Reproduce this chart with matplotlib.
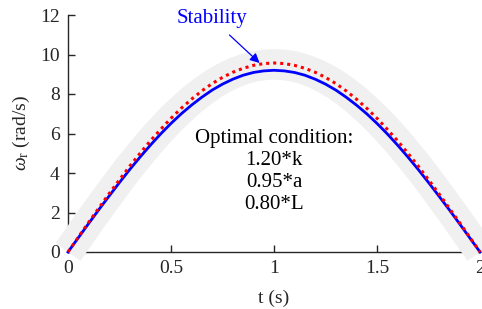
import numpy as np
import matplotlib
matplotlib.use("Agg")
import matplotlib.pyplot as plt

plt.rcParams['font.family'] = ['Liberation Serif', 'DejaVu Serif']
plt.rcParams['mathtext.fontset'] = 'custom'
plt.rcParams['mathtext.rm'] = 'Liberation Serif'
plt.rcParams['mathtext.it'] = 'Liberation Serif:italic'

# time samples (s)
t = [0.00, 0.05, 0.10, 0.15, 0.20, 0.25, 0.30, 0.35, 0.40, 0.45, 0.50,
     0.55, 0.60, 0.65, 0.70, 0.75, 0.80, 0.85, 0.90, 0.95, 1.00,
     1.05, 1.10, 1.15, 1.20, 1.25, 1.30, 1.35, 1.40, 1.45, 1.50,
     1.55, 1.60, 1.65, 1.70, 1.75, 1.80, 1.85, 1.90, 1.95, 2.00]

# speed (rad/s)
w_nominal = [0.00, 0.72, 1.44, 2.15, 2.84, 3.52, 4.18, 4.81, 5.41, 5.98, 6.51,
             7.00, 7.44, 7.84, 8.20, 8.50, 8.75, 8.95, 9.09, 9.17, 9.20,
             9.17, 9.09, 8.95, 8.75, 8.50, 8.20, 7.84, 7.44, 7.00, 6.51,
             5.98, 5.41, 4.81, 4.18, 3.52, 2.84, 2.15, 1.44, 0.72, 0.00]
w_optimal = [0.00, 0.75, 1.50, 2.23, 2.96, 3.66, 4.35, 5.00, 5.63, 6.21, 6.77,
             7.28, 7.74, 8.16, 8.53, 8.84, 9.10, 9.30, 9.45, 9.54, 9.57,
             9.54, 9.45, 9.30, 9.10, 8.84, 8.53, 8.16, 7.74, 7.28, 6.77,
             6.21, 5.63, 5.00, 4.35, 3.66, 2.96, 2.23, 1.50, 0.75, 0.00]
w_band = [0.00, 0.74, 1.49, 2.22, 2.93, 3.64, 4.32, 4.96, 5.59, 6.17, 6.72,
          7.22, 7.69, 8.10, 8.47, 8.78, 9.04, 9.24, 9.39, 9.47, 9.50,
          9.47, 9.39, 9.24, 9.04, 8.78, 8.47, 8.10, 7.69, 7.22, 6.72,
          6.17, 5.59, 4.96, 4.32, 3.64, 2.93, 2.22, 1.49, 0.74, 0.00]

conditions = ["Optimal condition:", "1.20*k", "0.95*a", "0.80*L"]

fig = plt.figure(figsize=(4.82, 3.09), dpi=100)
ax = fig.add_axes([68 / 482, 1 - 252 / 309, 412 / 482, 237 / 309])

# stability band
ax.plot(t, w_band, color='#f0f0f0', linewidth=22, solid_capstyle='butt',
        solid_joinstyle='round', clip_on=False, zorder=3)
ax.plot(t, w_nominal, color='#0000ff', linewidth=2, zorder=4, clip_on=False)
ax.plot(t, w_optimal, color='#ff0000', linewidth=2.2, linestyle=(0, (1.0, 1.3)),
        zorder=5, clip_on=False)

ax.annotate("Stability", xy=(0.93, 9.57), xytext=(0.70, 11.8),
            color='#0000ff', fontsize=15, ha='center', va='center',
            arrowprops=dict(arrowstyle='-|>', color='#0000ff', lw=0.9,
                            mutation_scale=14, shrinkA=4, shrinkB=0))

ax.text(1.0, 4.08, "\n".join(conditions), ha='center', va='center',
        multialignment='center', fontsize=15, color='#000000', linespacing=1.22)

ax.set_xlim(0, 2)
ax.set_ylim(0, 12)
ax.set_xticks([0, 0.5, 1, 1.5, 2])
ax.set_xticklabels(['0', '0.5', '1', '1.5', '2'])
ax.set_yticks([0, 2, 4, 6, 8, 10, 12])

for side in ['top', 'right']:
    ax.spines[side].set_visible(False)
for side in ['left', 'bottom']:
    ax.spines[side].set_color('#262626')
    ax.spines[side].set_linewidth(1.0)

ax.tick_params(direction='in', length=5, width=1.0, colors='#262626',
               labelsize=14, pad=6)
ax.set_xlabel("t (s)", fontsize=14, color='#262626', labelpad=9)
ax.set_ylabel(r"$\omega$$_{\mathrm{r}}$ (rad/s)", fontsize=14, color='#262626', labelpad=6)

fig.savefig("out.png", dpi=100)
